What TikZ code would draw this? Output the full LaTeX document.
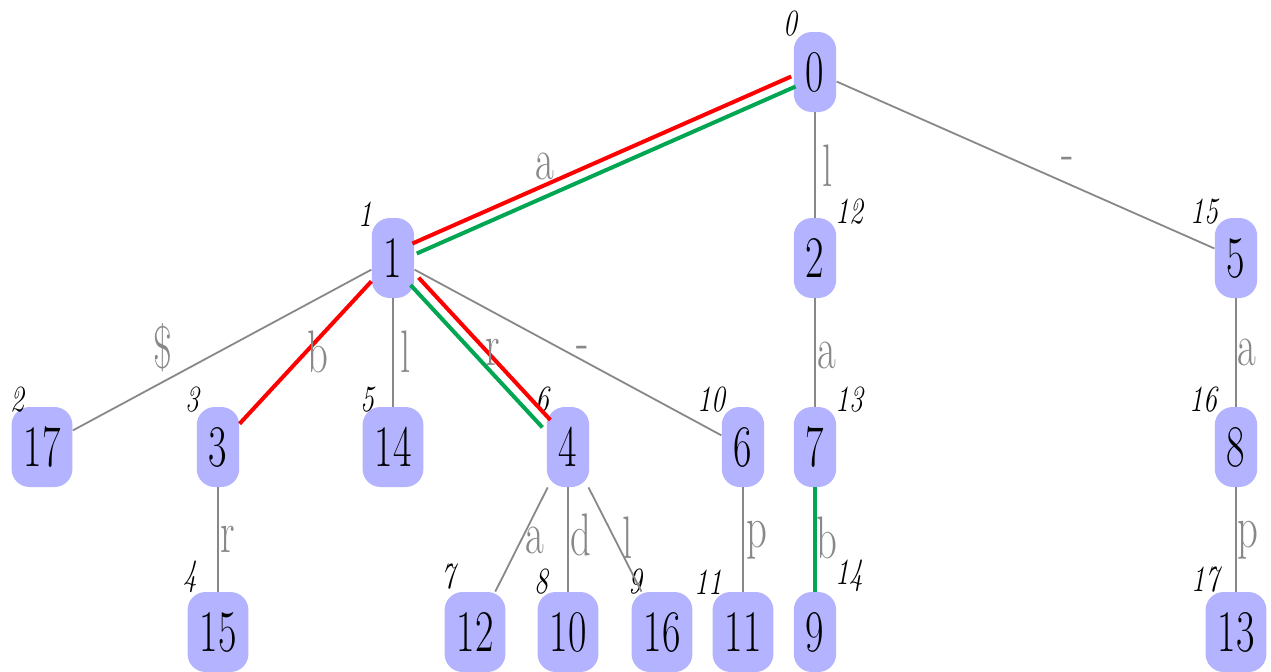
\documentclass[tikz,border=0pt]{standalone}
\usepackage{tikz}
\usetikzlibrary{calc}
\definecolor{cnode}{HTML}{B3B3FF}
\definecolor{cgray}{HTML}{888888}
\definecolor{cred}{HTML}{FF0000}
\definecolor{cgreen}{HTML}{00A651}
\newcommand{\sqz}[1]{\scalebox{0.68}[1]{#1}}
\newcommand{\sqzi}[1]{\scalebox{0.75}[1]{#1}}

\begin{document}
\begin{tikzpicture}[
      x=0.5pt,y=-0.5pt,
      nd/.style={fill=cnode,rounded corners=9pt,minimum height=40pt,
                 inner xsep=6pt,inner ysep=0pt,font=\fontsize{29.5}{30}\selectfont},
      ed/.style={draw=cgray,line width=0.9pt},
      el/.style={text=cgray,inner sep=0pt,font=\fontsize{30}{30}\selectfont},
      dl/.style={inner sep=0pt,font=\fontsize{18.5}{19}\selectfont\itshape},
      rd/.style={draw=cred,line width=2pt},
      gn/.style={draw=cgreen,line width=2pt}]

    \useasboundingbox (0,0) rectangle (1271,671);

    % tree nodes
    \node[nd] (n0) at (815,72) {\sqz{0}};
    \node[nd] (n1) at (393,258) {\sqz{1}};
    \node[nd] (n2) at (815,258) {\sqz{2}};
    \node[nd] (n5) at (1236,258) {\sqz{5}};
    \node[nd] (n17) at (42,447) {\sqz{17}};
    \node[nd] (n3) at (218,447) {\sqz{3}};
    \node[nd] (n14) at (393,447) {\sqz{14}};
    \node[nd] (n4) at (568,447) {\sqz{4}};
    \node[nd] (n6) at (743,447) {\sqz{6}};
    \node[nd] (n7) at (815,447) {\sqz{7}};
    \node[nd] (n8) at (1236,447) {\sqz{8}};
    \node[nd] (n15) at (218,632) {\sqz{15}};
    \node[nd] (n12) at (475,632) {\sqz{12}};
    \node[nd] (n10) at (568,632) {\sqz{10}};
    \node[nd] (n16) at (662,632) {\sqz{16}};
    \node[nd] (n11) at (743,632) {\sqz{11}};
    \node[nd] (n9) at (815,632) {\sqz{9}};
    \node[nd] (n13) at (1236,632) {\sqz{13}};

    % small numbers beside the nodes
    \node[dl,anchor=south east] (d0) at ($(n0)+(-17,-35)$) {\sqzi{0}};
    \node[dl,anchor=south east] (d1) at ($(n1)+(-20,-31)$) {\sqzi{1}};
    \node[dl,anchor=south west] (d12) at ($(n2)+(20,-33)$) {\sqzi{12}};
    \node[dl,anchor=south east] (d15) at ($(n5)+(-17,-33)$) {\sqzi{15}};
    \node[dl,anchor=south east] (d2) at ($(n17)+(-17,-34)$) {\sqzi{2}};
    \node[dl,anchor=south east] (d3) at ($(n3)+(-18,-34)$) {\sqzi{3}};
    \node[dl,anchor=south east] (d5) at ($(n14)+(-18,-34)$) {\sqzi{5}};
    \node[dl,anchor=south east] (d6) at ($(n4)+(-18,-34)$) {\sqzi{6}};
    \node[dl,anchor=south east] (d10) at ($(n6)+(-17,-34)$) {\sqzi{10}};
    \node[dl,anchor=south west] (d13) at ($(n7)+(20,-34)$) {\sqzi{13}};
    \node[dl,anchor=south east] (d16) at ($(n8)+(-18,-34)$) {\sqzi{16}};
    \node[dl,anchor=south east] (d4) at ($(n15)+(-20,-39)$) {\sqzi{4}};
    \node[dl,anchor=south east] (d7) at ($(n12)+(-19,-42)$) {\sqzi{7}};
    \node[dl,anchor=south east] (d8) at ($(n10)+(-19,-37)$) {\sqzi{8}};
    \node[dl,anchor=south east] (d9) at ($(n16)+(-19,-37)$) {\sqzi{9}};
    \node[dl,anchor=south east] (d11) at ($(n11)+(-20,-37)$) {\sqzi{11}};
    \node[dl,anchor=south west] (d14) at ($(n9)+(20,-40)$) {\sqzi{14}};
    \node[dl,anchor=south east] (d17) at ($(n13)+(-16,-39)$) {\sqzi{17}};

    % plain edges
    \draw[ed] (n0) -- (n2);
    \draw[ed] (n0) -- (n5);
    \draw[ed] (n1) -- (n17);
    \draw[ed] (n1) -- (n14);
    \draw[ed] (n1) -- (n6);
    \draw[ed] (n2) -- (n7);
    \draw[ed] (n5) -- (n8);
    \draw[ed] (n3) -- (n15);
    \draw[ed] (n4) -- (n12);
    \draw[ed] (n4) -- (n10);
    \draw[ed] (n4) -- (n16);
    \draw[ed] (n6) -- (n11);
    \draw[ed] (n8) -- (n13);

    % marked paths
    \draw[rd,transform canvas={shift={(-2.2,-5)}}] (n0) -- (n1);
    \draw[gn,transform canvas={shift={(2.2,5)}}] (n0) -- (n1);
    \draw[rd] (n1) -- (n3);
    \draw[rd,transform canvas={shift={(4,-3.7)}}] (n1) -- (n4);
    \draw[gn,transform canvas={shift={(-4,3.7)}}] (n1) -- (n4);
    \draw[gn] (n7) -- (n9);

    % edge letters
    \node[el] (e01) at (545,166) {\sqz{a}};
    \node[el] (e02) at (828,166) {\sqz{l}};
    \node[el] (e05) at (1068,164) {\sqz{-}};
    \node[el] (e117) at (163,348) {\sqz{\$}};
    \node[el] (e13) at (318,352) {\sqz{b}};
    \node[el] (e114) at (406,352) {\sqz{l}};
    \node[el] (e14) at (493,352) {\sqz{r}};
    \node[el] (e16) at (583,353) {\sqz{-}};
    \node[el] (e27) at (827,355) {\sqz{a}};
    \node[el] (e58) at (1247,352) {\sqz{a}};
    \node[el] (e315) at (228,539) {\sqz{r}};
    \node[el] (e412) at (535,540) {\sqz{a}};
    \node[el] (e410) at (581,535) {\sqz{d}};
    \node[el] (e416) at (628,538) {\sqz{l}};
    \node[el] (e611) at (757,540) {\sqz{p}};
    \node[el] (e79) at (827,538) {\sqz{b}};
    \node[el] (e813) at (1248,540) {\sqz{p}};
  \end{tikzpicture}
\end{document}
